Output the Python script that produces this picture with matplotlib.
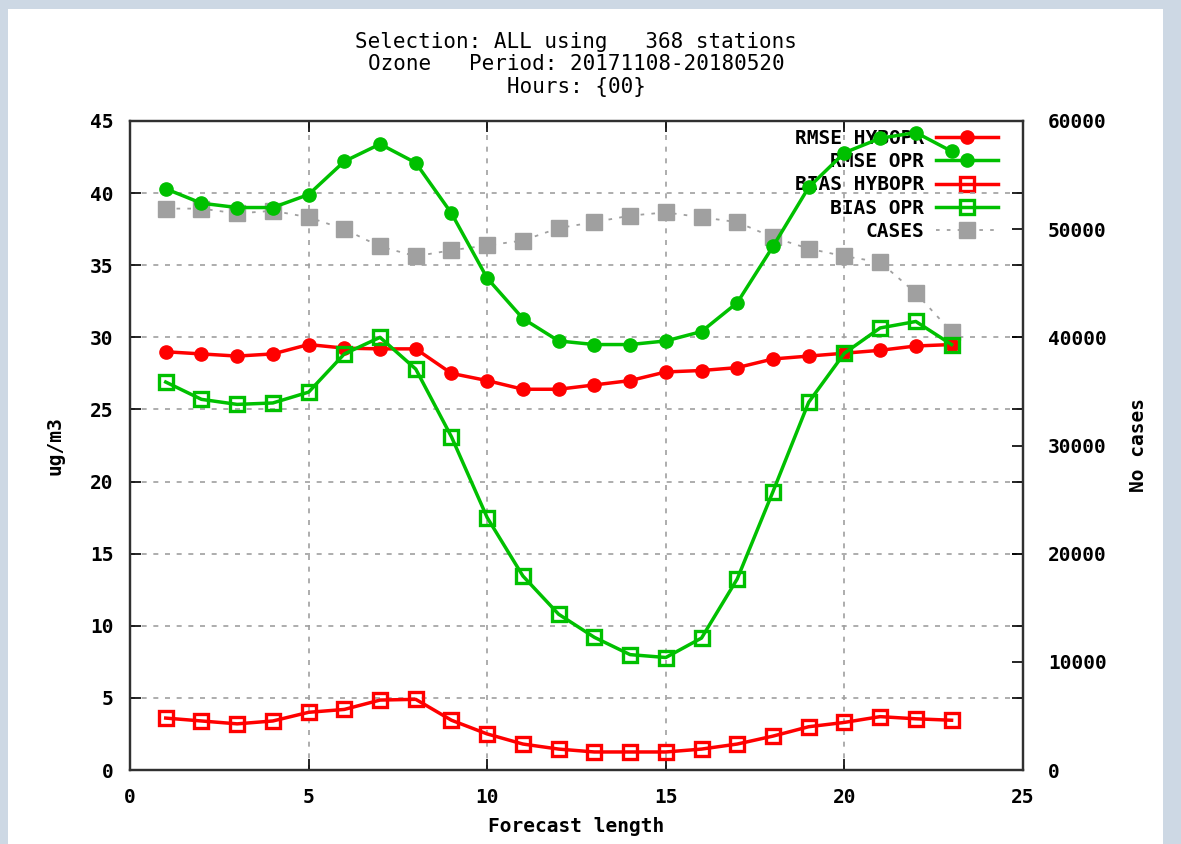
import numpy as np
import matplotlib
matplotlib.use("Agg")
import matplotlib.pyplot as plt
from matplotlib.patches import Rectangle

# forecast length (hours)
lead = list(range(1, 24))

rmse_hybopr = [29.0, 28.85, 28.7, 28.85, 29.5, 29.25, 29.2, 29.2, 27.5, 27.0, 26.4, 26.4,
               26.7, 27.0, 27.6, 27.7, 27.9, 28.5, 28.7, 28.9, 29.1, 29.4, 29.5]
rmse_opr = [40.3, 39.3, 39.0, 39.0, 39.9, 42.2, 43.4, 42.1, 38.6, 34.1, 31.3, 29.75,
            29.5, 29.5, 29.75, 30.4, 32.4, 36.3, 40.4, 42.8, 43.8, 44.2, 42.9]
bias_hybopr = [3.6, 3.4, 3.2, 3.4, 4.0, 4.2, 4.85, 4.9, 3.45, 2.5, 1.8, 1.45,
               1.25, 1.25, 1.25, 1.45, 1.8, 2.35, 3.0, 3.3, 3.7, 3.55, 3.45]
bias_opr = [26.9, 25.7, 25.35, 25.45, 26.2, 28.85, 30.0, 27.8, 23.1, 17.5, 13.45, 10.8,
            9.2, 8.0, 7.8, 9.15, 13.25, 19.3, 25.5, 28.9, 30.65, 31.1, 29.5]
cases = [51900, 51900, 51450, 51700, 51100, 50000, 48400, 47500, 48050, 48500, 48950, 50100,
         50650, 51250, 51550, 51100, 50650, 49250, 48200, 47500, 46950, 44100, 40500]

RED = "#ff0000"
GREEN = "#00c000"
GREY = "#a0a0a0"
FONT = "DejaVu Sans Mono"

fig = plt.figure(figsize=(11.81, 8.44), dpi=100)
fig.patch.set_facecolor("#cdd8e4")
# white page area behind the chart (screenshot border left bluish)
fig.patches.append(Rectangle((8 / 1181, 0), (1163 - 8) / 1181, 1 - 9 / 844,
                             transform=fig.transFigure, facecolor="white",
                             edgecolor="none", zorder=-5))

ax = fig.add_axes([130 / 1181, 74 / 844, (1023 - 130) / 1181, (770 - 121) / 844])
ax2 = ax.twinx()

lw = 2.5
ax.plot(lead, rmse_hybopr, color=RED, lw=lw, marker="o", ms=9.5, label="RMSE HYBOPR", zorder=3)
ax.plot(lead, rmse_opr, color=GREEN, lw=lw, marker="o", ms=9.5, label="RMSE OPR", zorder=3)
ax.plot(lead, bias_hybopr, color=RED, lw=lw, marker="s", ms=10, mfc="none", mew=2.4,
        label="BIAS HYBOPR", zorder=3)
ax.plot(lead, bias_opr, color=GREEN, lw=lw, marker="s", ms=10, mfc="none", mew=2.4,
        label="BIAS OPR", zorder=3)
ax2.plot(lead, cases, color=GREY, lw=1.3, ls=(0, (2, 4)), marker="s", ms=12, label="CASES")

ax.set_xlim(0, 25)
ax.set_ylim(0, 45)
ax2.set_ylim(0, 60000)
ax.set_xticks(range(0, 26, 5))
ax.set_yticks(range(0, 46, 5))
ax2.set_yticks(range(0, 60001, 10000))

ax.grid(True, color=GREY, ls=(0, (3, 4)), lw=1.2)
ax.tick_params(direction="in", length=8, width=1.2, top=True, right=True,
               labelsize=14, pad=12)
ax.tick_params(axis="x", pad=13)
ax2.tick_params(direction="in", length=8, width=1.2, labelsize=14, pad=18)
for a in (ax, ax2):
    for lab in a.get_xticklabels() + a.get_yticklabels():
        lab.set_family(FONT)
        lab.set_weight("bold")
    for sp in a.spines.values():
        sp.set_linewidth(1.6)
        sp.set_color("#303030")

ax.set_ylabel("ug/m3", family=FONT, weight="bold", fontsize=14, labelpad=18)
ax2.set_ylabel("No cases", family=FONT, weight="bold", fontsize=14, labelpad=16)
ax.set_xlabel("Forecast length", family=FONT, weight="bold", fontsize=14, labelpad=7)

# lines of the main axes should sit above the legend text, as in gnuplot
ax.set_zorder(2)
ax.patch.set_visible(False)
ax2.set_zorder(1)
h1, l1 = ax.get_legend_handles_labels()
h2, l2 = ax2.get_legend_handles_labels()
leg = ax.legend(h1 + h2, l1 + l2, loc="upper right", bbox_to_anchor=(0.981, 1.0),
                frameon=False, markerfirst=False,
                prop={"family": FONT, "weight": "bold", "size": 14},
                handlelength=3.2, handletextpad=0.6, labelspacing=0.22,
                borderaxespad=0)
leg.set_zorder(0.5)

titles = ["Selection: ALL using   368 stations",
          "Ozone   Period: 20171108-20180520",
          "Hours: {00}"]
for i, t in enumerate(titles):
    fig.text(576 / 1181, 1 - (42 + 22.5 * i) / 844, t, ha="center", va="center",
             family=FONT, fontsize=15)

fig.savefig("out.png", dpi=100, facecolor=fig.get_facecolor())
